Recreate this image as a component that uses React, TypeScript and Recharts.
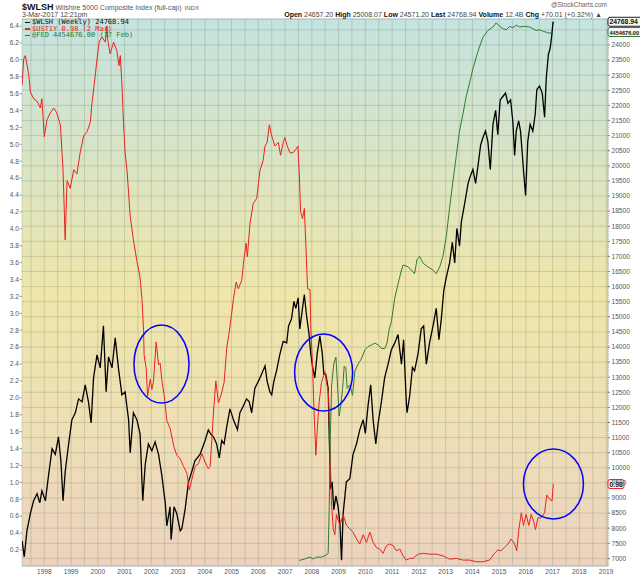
import React from "react";
import {
  ComposedChart,
  Line,
  XAxis,
  YAxis,
  CartesianGrid,
  ReferenceDot,
  ReferenceLine,
} from "recharts";

// $UST1Y, 1-year treasury yield (left scale)
const ustYears = [
  1997.17, 1997.23, 1997.29, 1997.36, 1997.42, 1997.48, 1997.6, 1997.73, 1997.85, 1997.91,
  1998.0, 1998.1, 1998.22, 1998.35, 1998.47, 1998.6, 1998.7, 1998.78, 1998.85, 1998.97,
  1999.1, 1999.22, 1999.34, 1999.47, 1999.6, 1999.72, 1999.78, 1999.87, 1999.97,
  2000.05, 2000.15, 2000.28, 2000.34, 2000.38, 2000.46, 2000.59, 2000.71, 2000.79, 2000.84, 2000.9, 2000.96,
  2001.02, 2001.09, 2001.21, 2001.33, 2001.46, 2001.58, 2001.65, 2001.71, 2001.73, 2001.81, 2001.86, 2001.96,
  2002.02, 2002.08, 2002.18, 2002.27, 2002.33, 2002.39, 2002.48, 2002.58, 2002.7, 2002.83, 2002.95,
  2003.08, 2003.2, 2003.33, 2003.42, 2003.51, 2003.64, 2003.76, 2003.89,
  2004.01, 2004.13, 2004.2, 2004.32, 2004.41, 2004.51, 2004.63, 2004.72, 2004.82, 2004.94,
  2005.07, 2005.17, 2005.25, 2005.38, 2005.44, 2005.54, 2005.59, 2005.69, 2005.81, 2005.94,
  2006.06, 2006.18, 2006.25, 2006.33, 2006.41, 2006.5, 2006.62, 2006.75, 2006.83, 2006.93, 2006.99,
  2007.08, 2007.18, 2007.3, 2007.4, 2007.48, 2007.53, 2007.58, 2007.65, 2007.72, 2007.78, 2007.84, 2007.93, 2007.96,
  2008.03, 2008.08, 2008.15, 2008.2, 2008.27, 2008.36, 2008.49, 2008.55, 2008.62, 2008.67, 2008.73, 2008.8, 2008.86, 2008.92,
  2009.05, 2009.17, 2009.29, 2009.42, 2009.54, 2009.67, 2009.79, 2009.92,
  2010.04, 2010.17, 2010.29, 2010.41, 2010.54, 2010.66, 2010.79, 2010.91,
  2011.04, 2011.16, 2011.29, 2011.41, 2011.53, 2011.66, 2011.78, 2011.97,
  2012.16, 2012.4, 2012.65, 2012.9, 2013.15, 2013.4, 2013.65, 2013.9,
  2014.15, 2014.39, 2014.64, 2014.83, 2014.95,
  2015.08, 2015.2, 2015.33, 2015.45, 2015.58, 2015.66, 2015.74, 2015.83, 2015.91,
  2016.01, 2016.11, 2016.2, 2016.29, 2016.36, 2016.45, 2016.57, 2016.7, 2016.78, 2016.88, 2016.98,
  2017.01, 2017.03,
];
const ustValues = [
  5.7, 6.01, 6.05, 5.93, 5.82, 5.62, 5.54, 5.51, 5.43, 5.54,
  5.09, 5.29, 5.37, 5.43, 5.37, 5.23, 4.7, 3.87, 4.57, 4.48,
  4.7, 4.65, 4.9, 5.1, 5.15, 5.26, 5.48, 5.72, 6.01,
  6.21, 6.27, 6.21, 6.4, 6.22, 6.07, 6.21, 6.11, 5.93, 6.05, 5.72, 5.26,
  4.9, 4.7, 4.15, 3.87, 3.62, 3.42, 3.17, 2.8, 2.51, 2.34, 2.02, 2.22,
  2.1, 2.19, 2.66, 2.39, 2.41, 2.22, 2.03, 1.73, 1.64, 1.44, 1.32,
  1.28, 1.19, 1.11, 0.91, 1.03, 1.19, 1.22, 1.34,
  1.24, 1.16, 1.19, 1.81, 2.2, 1.94, 2.06, 2.18, 2.59, 2.84,
  3.17, 3.37, 3.29, 3.39, 3.58, 3.83, 3.67, 4.07, 4.3, 4.36,
  4.69, 4.81, 4.98, 5.02, 5.23, 5.1, 4.98, 5.02, 4.87, 5.02, 5.08,
  4.98, 4.9, 4.9, 4.94, 4.98, 4.65, 4.2, 4.12, 4.24, 3.78, 3.29, 3.28, 2.84,
  2.35, 1.86, 1.32, 1.61, 1.94, 2.18, 2.31, 2.18, 2.06, 1.52, 0.78, 0.45, 0.38, 0.62,
  0.49, 0.62, 0.49, 0.45, 0.41, 0.33, 0.27, 0.38,
  0.29, 0.41, 0.29, 0.23, 0.21, 0.16, 0.25, 0.27,
  0.25, 0.19, 0.21, 0.13, 0.08, 0.1, 0.1, 0.15,
  0.16, 0.15, 0.15, 0.13, 0.09, 0.1, 0.08, 0.08,
  0.06, 0.06, 0.08, 0.16, 0.2,
  0.19, 0.23, 0.27, 0.33, 0.27, 0.19, 0.45, 0.64, 0.49,
  0.62, 0.49, 0.62, 0.54, 0.44, 0.58, 0.58, 0.64, 0.85, 0.8, 0.78,
  0.93, 0.98,
];

// $WLSH weekly close (right scale)
const wlshYears = [
  1997.17, 1997.25, 1997.35, 1997.48, 1997.6, 1997.73, 1997.83, 1997.91,
  1998.04, 1998.16, 1998.29, 1998.41, 1998.53, 1998.62, 1998.7, 1998.78, 1998.91,
  1999.03, 1999.16, 1999.28, 1999.41, 1999.53, 1999.65, 1999.75, 1999.84, 1999.97,
  2000.09, 2000.21, 2000.31, 2000.4, 2000.53, 2000.65, 2000.77, 2000.9,
  2001.02, 2001.15, 2001.21, 2001.33, 2001.46, 2001.58, 2001.68, 2001.77, 2001.89,
  2002.02, 2002.14, 2002.27, 2002.39, 2002.52, 2002.58, 2002.7, 2002.74, 2002.85, 2002.95,
  2003.08, 2003.14, 2003.26, 2003.39, 2003.51, 2003.63, 2003.82,
  2004.01, 2004.13, 2004.2, 2004.32, 2004.44, 2004.54, 2004.63, 2004.72, 2004.82, 2004.94,
  2005.07, 2005.22, 2005.31, 2005.44, 2005.56, 2005.66, 2005.75, 2005.87,
  2006.0, 2006.12, 2006.25, 2006.33, 2006.43, 2006.5, 2006.58, 2006.68, 2006.81, 2006.93,
  2007.06, 2007.13, 2007.24, 2007.33, 2007.4, 2007.49, 2007.55, 2007.65, 2007.72, 2007.8, 2007.89, 2007.96,
  2008.03, 2008.11, 2008.2, 2008.3, 2008.39, 2008.45, 2008.52, 2008.61, 2008.65, 2008.7, 2008.76, 2008.82, 2008.9, 2008.98,
  2009.05, 2009.11, 2009.17, 2009.29, 2009.42, 2009.54, 2009.67, 2009.79, 2009.92,
  2010.0, 2010.1, 2010.2, 2010.29, 2010.39, 2010.48, 2010.6, 2010.72, 2010.85, 2010.97,
  2011.1, 2011.22, 2011.35, 2011.43, 2011.53, 2011.56, 2011.66, 2011.76, 2011.84, 2011.97,
  2012.09, 2012.18, 2012.28, 2012.4, 2012.53, 2012.65, 2012.75, 2012.84, 2012.93,
  2013.03, 2013.15, 2013.25, 2013.34, 2013.42, 2013.52, 2013.59, 2013.71, 2013.84, 2013.92,
  2014.02, 2014.12, 2014.21, 2014.31, 2014.39, 2014.49, 2014.58, 2014.67, 2014.77, 2014.87, 2014.95,
  2015.04, 2015.14, 2015.24, 2015.33, 2015.43, 2015.51, 2015.58, 2015.64, 2015.73, 2015.8, 2015.86, 2015.92, 2015.99,
  2016.07, 2016.16, 2016.26, 2016.35, 2016.41, 2016.51, 2016.61, 2016.7, 2016.76, 2016.84, 2016.91, 2016.96,
  2017.01, 2017.03,
];
const wlshValues = [
  7582, 7053, 7913, 8490, 8906, 9138, 8840, 9237,
  8906, 9767, 10628, 10445, 11025, 10230, 8906, 9866, 10793,
  11588, 11820, 12283, 12183, 12746, 12183, 11488, 12978, 13739,
  13309, 14699, 12515, 13673, 13309, 14302, 13309, 12415,
  12515, 11588, 10495, 11820, 11588, 11124, 8906, 10098, 10793,
  10561, 10859, 10445, 9767, 8840, 8079, 8707, 7616, 8707, 8490,
  7913, 7980, 8608, 9535, 9866, 10230, 10445,
  10906, 11256, 11138, 11025, 10793, 10330, 10906, 10793, 11366, 11952,
  11588, 11256, 11820, 12050, 12283, 12183, 11820, 12634,
  12862, 13094, 13375, 12862, 12515, 12415, 12862, 13209, 13782, 14186,
  14136, 14699, 14930, 15510, 15278, 15626, 14600, 15278, 15738, 15050, 14467, 13782,
  13322, 12978, 13782, 14358, 13782, 13094, 13094, 12634, 11025, 9303, 9535, 8608, 9071, 8724,
  8145, 6937, 8490, 9535, 9641, 10445, 10793, 11256, 11588,
  11138, 12050, 12746, 11588, 10793, 11488, 12183, 12978, 13431, 13898,
  14136, 14414, 13431, 14242, 12183, 11826, 12402, 13322, 13209, 13782,
  14600, 14699, 13431, 14136, 14699, 15278, 14242, 14930, 15857,
  16321, 16784, 17463, 16784, 17926, 17347, 18155, 18737, 19419, 19650,
  19879, 19419, 19995, 20690, 20922, 21153, 20799, 19879, 21375, 21835, 21031,
  22180, 22295, 22411, 22067, 22180, 21491, 20339, 21147, 21491, 21147, 20458, 19763, 19018,
  20799, 21375, 21147, 21716, 22527, 22643, 22411, 21607, 22875, 23676, 23907, 24252,
  24712, 24768.94,
];

// @FED balance sheet, millions (own hidden scale)
const fedYears = [
  2007.53, 2007.74, 2007.93, 2008.05, 2008.18, 2008.36, 2008.52, 2008.61, 2008.65, 2008.69,
  2008.74, 2008.82, 2008.9, 2008.96, 2009.02, 2009.08, 2009.15, 2009.21, 2009.27, 2009.32,
  2009.42, 2009.52, 2009.61, 2009.73, 2009.85, 2009.98, 2010.1, 2010.23, 2010.35, 2010.48,
  2010.6, 2010.73, 2010.81, 2010.89, 2010.97, 2011.1, 2011.22, 2011.35, 2011.41, 2011.6,
  2011.72, 2011.84, 2011.93, 2012.03, 2012.16, 2012.34, 2012.53, 2012.65, 2012.78, 2012.9,
  2013.03, 2013.15, 2013.28, 2013.4, 2013.52, 2013.65, 2013.77, 2013.9, 2014.02, 2014.21,
  2014.39, 2014.58, 2014.77, 2014.89, 2015.02, 2015.14, 2015.27, 2015.39, 2015.51, 2015.64,
  2015.76, 2015.95, 2016.14, 2016.26, 2016.38, 2016.51, 2016.63, 2016.76, 2016.88, 2016.98,
];
const fedValues = [
  870000, 881000, 893000, 881000, 893000, 893000, 905000, 917000, 1236000, 1707000,
  2060000, 2203000, 2250000, 2060000, 1850000, 1919000, 2037000, 2189000, 2178000, 2037000,
  2060000, 1990000, 2155000, 2203000, 2237000, 2298000, 2320000, 2332000, 2345000, 2332000,
  2308000, 2308000, 2345000, 2438000, 2485000, 2650000, 2745000, 2840000, 2874000, 2862000,
  2840000, 2815000, 2910000, 2933000, 2886000, 2862000, 2840000, 2815000, 2862000, 2933000,
  3074000, 3263000, 3451000, 3616000, 3783000, 3900000, 4017000, 4111000, 4206000, 4324000,
  4418000, 4465000, 4489000, 4517000, 4493000, 4477000, 4470000, 4493000, 4484000, 4501000,
  4489000, 4493000, 4489000, 4477000, 4465000, 4470000, 4461000, 4453000, 4446000, 4454676,
];

const yearLabels = [
  1998, 1999, 2000, 2001, 2002, 2003, 2004, 2005, 2006, 2007, 2008,
  2009, 2010, 2011, 2012, 2013, 2014, 2015, 2016, 2017, 2018, 2019,
];
const leftTicks = [
  0.2, 0.4, 0.6, 0.8, 1.0, 1.2, 1.4, 1.6, 1.8, 2.0, 2.2, 2.4, 2.6, 2.8, 3.0, 3.2,
  3.4, 3.6, 3.8, 4.0, 4.2, 4.4, 4.6, 4.8, 5.0, 5.2, 5.4, 5.6, 5.8, 6.0, 6.2, 6.4,
];
const rightTicks = [
  7000, 7500, 8000, 8500, 9000, 9500, 10000, 10500, 11000, 11500, 12000, 12500,
  13000, 13500, 14000, 14500, 15000, 15500, 16000, 16500, 17000, 17500, 18000,
  18500, 19000, 19500, 20000, 20500, 21000, 21500, 22000, 22500, 23000, 23500,
  24000, 24500,
];

// blue hand-drawn circles: centre year, centre yield
const circleYears = [2002.38, 2008.44, 2017.03];
const circleYields = [2.4, 2.3, 0.98];
const circleSizes = [
  [27.5, 39],
  [29, 38.5],
  [30, 35],
];

const xDomain = [1997.166, 2019.07];
const leftDomain = [0.01, 6.483];
const rightDomain = [6748, 24861];
const fedDomain = [832554, 4542855];
const LEFT_W = 22;
const RIGHT_W = 32;

const zip = (xs: number[], ys: number[]) => xs.map((t, i) => ({ t, v: ys[i] }));
const wlshData = zip(wlshYears, wlshValues);
const ustData = zip(ustYears, ustValues);
const fedData = zip(fedYears, fedValues);

const gridTicks = yearLabels.flatMap((y) => [y - 0.5, y]);

const axisFont = "'Liberation Sans', Arial, sans-serif";
const tickStyle = { fontSize: 6.6, fill: "#555", fontFamily: axisFont };

// left labels sit against the fixed-width axis strip
const LeftTick = (props: any) => {
  const { y, payload } = props;
  return (
    <g>
      <line x1={LEFT_W - 2.5} x2={LEFT_W} y1={y} y2={y} stroke="#888" strokeWidth={0.8} />
      <text
        x={LEFT_W - 3}
        y={y}
        dy={2.3}
        textAnchor="end"
        fontSize={6.6}
        fill="#555"
        fontFamily={axisFont}
      >
        {Number(payload.value).toFixed(1)}
      </text>
    </g>
  );
};

const Tag = (props: any) => {
  const { cx, cy, text, color, w, fs } = props;
  if (cx == null || cy == null) return null;
  return (
    <g>
      <rect x={cx} y={cy - 4.5} width={w} height={9} rx={2} fill="#f4f6f6" stroke={color} strokeWidth={1} />
      <text x={cx + 1.5} y={cy + 2.5} fontSize={fs} fontFamily={axisFont} fill="#111" fontWeight="bold">
        {text}
      </text>
    </g>
  );
};

const Oval = (props: any) => {
  const { cx, cy, rx, ry } = props;
  if (cx == null || cy == null) return null;
  return <ellipse cx={cx} cy={cy} rx={rx} ry={ry} fill="none" stroke="#0000ff" strokeWidth={1.5} />;
};

const legendRows = [
  { color: "#111", text: `$WLSH (Weekly) ${wlshValues[wlshValues.length - 1]}` },
  { color: "#e8231e", text: `$UST1Y ${ustValues[ustValues.length - 1]} (2 Mar)` },
  { color: "#2f7d2f", text: `@FED ${fedValues[fedValues.length - 1]}.00 (17 Feb)` },
];

export default function App() {
  return (
    <div
      style={{
        position: "absolute",
        left: 0,
        top: 0,
        width: 640,
        height: 576,
        overflow: "hidden",
        background: "#fff",
        fontFamily: axisFont,
      }}
    >
      <ComposedChart width={640} height={576} margin={{ top: 19, right: 0, bottom: 0, left: 0 }}>
        <defs>
          <linearGradient id="bgGrad" x1="0" y1="0" x2="0" y2="1">
            <stop offset="0%" stopColor="#c4e3e0" />
            <stop offset="25%" stopColor="#d9e4c6" />
            <stop offset="50%" stopColor="#efe6a9" />
            <stop offset="75%" stopColor="#eedfb6" />
            <stop offset="100%" stopColor="#ecd2bf" />
          </linearGradient>
        </defs>
        <CartesianGrid
          yAxisId="right"
          fill="url(#bgGrad)"
          stroke="rgba(110,125,95,0.32)"
          strokeWidth={0.8}
        />
        <XAxis
          type="number"
          dataKey="t"
          domain={xDomain}
          allowDataOverflow
          ticks={gridTicks}
          interval={0}
          tickFormatter={(v: number) => (Number.isInteger(v) ? String(v) : "")}
          tickLine={false}
          tickSize={3}
          tickMargin={0}
          height={10}
          axisLine={{ stroke: "#b0bcc0" }}
          tick={tickStyle}
        />
        <YAxis
          yAxisId="left"
          orientation="left"
          width={LEFT_W}
          domain={leftDomain}
          allowDataOverflow
          ticks={leftTicks}
          interval={0}
          tickLine={false}
          axisLine={{ stroke: "#a6c6d6" }}
          tick={LeftTick}
        />
        <YAxis
          yAxisId="right"
          orientation="right"
          width={RIGHT_W}
          domain={rightDomain}
          allowDataOverflow
          ticks={rightTicks}
          interval={0}
          tickFormatter={(v: number) => (v > 24000 ? "" : String(v))}
          tickSize={2}
          tickMargin={1.5}
          tickLine={{ stroke: "#888" }}
          axisLine={{ stroke: "#6f9fcf", strokeDasharray: "1 1" }}
          tick={tickStyle}
        />
        <YAxis yAxisId="fed" hide domain={fedDomain} allowDataOverflow />
        <ReferenceLine yAxisId="right" y={rightDomain[1]} stroke="#b4c4c8" ifOverflow="visible" />
        <Line
          yAxisId="right"
          data={wlshData}
          dataKey="v"
          type="linear"
          stroke="#000"
          strokeWidth={1.3}
          dot={false}
          isAnimationActive={false}
        />
        <Line
          yAxisId="left"
          data={ustData}
          dataKey="v"
          type="linear"
          stroke="#e8231e"
          strokeWidth={1}
          dot={false}
          isAnimationActive={false}
        />
        <Line
          yAxisId="fed"
          data={fedData}
          dataKey="v"
          type="linear"
          stroke="#2f7d2f"
          strokeWidth={1}
          dot={false}
          isAnimationActive={false}
        />
        {circleYears.map((cy, i) => (
          <ReferenceDot
            key={`c${i}`}
            yAxisId="left"
            x={cy}
            y={circleYields[i]}
            ifOverflow="visible"
            shape={(p: any) => <Oval {...p} rx={circleSizes[i][0]} ry={circleSizes[i][1]} />}
          />
        ))}
        <ReferenceDot
          yAxisId="right"
          x={xDomain[1]}
          y={wlshValues[wlshValues.length - 1]}
          ifOverflow="visible"
          shape={(p: any) => <Tag {...p} text="24768.94" color="#222" w={34} fs={6.8} />}
        />
        <ReferenceDot
          yAxisId="fed"
          x={xDomain[1]}
          y={fedValues[fedValues.length - 1]}
          ifOverflow="visible"
          shape={(p: any) => <Tag {...p} text="4454676.00" color="#2f7d2f" w={34} fs={5.6} />}
        />
        <ReferenceDot
          yAxisId="left"
          x={xDomain[1]}
          y={ustValues[ustValues.length - 1]}
          ifOverflow="visible"
          shape={(p: any) => <Tag {...p} text="0.98" color="#e8231e" w={16} fs={6.8} />}
        />
      </ComposedChart>

      {/* header */}
      <div style={{ position: "absolute", left: 22, top: 0, whiteSpace: "nowrap", lineHeight: "10px", height: 10 }}>
        <span style={{ fontSize: 9, fontWeight: "bold", color: "#111" }}>$WLSH</span>
        <span style={{ fontSize: 7, color: "#555", marginLeft: 2 }}>Wilshire 5000 Composite Index (full-cap)</span>
        <span style={{ fontSize: 6, color: "#555", marginLeft: 3 }}>INDX</span>
      </div>
      <div style={{ position: "absolute", left: 22, top: 11, fontSize: 7, color: "#444", whiteSpace: "nowrap", lineHeight: "8px" }}>
        3-Mar-2017 12:21pm
      </div>
      <div style={{ position: "absolute", right: 33, top: 1, fontSize: 6.5, color: "#666", whiteSpace: "nowrap", lineHeight: "8px" }}>
        @StockCharts.com
      </div>
      <div style={{ position: "absolute", right: 38, top: 11, fontSize: 7, color: "#444", whiteSpace: "nowrap", lineHeight: "8px" }}>
        <b style={{ color: "#111" }}>Open</b> 24657.20 <b style={{ color: "#111" }}>High</b> 25008.07{" "}
        <b style={{ color: "#111" }}>Low</b> 24571.20 <b style={{ color: "#111" }}>Last</b> 24768.94{" "}
        <b style={{ color: "#111" }}>Volume</b> 12.4B <b style={{ color: "#111" }}>Chg</b> +70.01 (+0.32%) ▲
      </div>

      {/* legend */}
      <div style={{ position: "absolute", left: 25, top: 19, whiteSpace: "nowrap" }}>
        {legendRows.map((r) => (
          <div key={r.text} style={{ display: "flex", alignItems: "center", height: 6.5 }}>
            <span style={{ display: "inline-block", width: 5, height: 1.5, background: r.color, marginRight: 2 }} />
            <span style={{ fontSize: 7, color: r.color, fontFamily: "'DejaVu Sans Mono', monospace", lineHeight: "6.5px" }}>
              {r.text}
            </span>
          </div>
        ))}
      </div>
    </div>
  );
}
